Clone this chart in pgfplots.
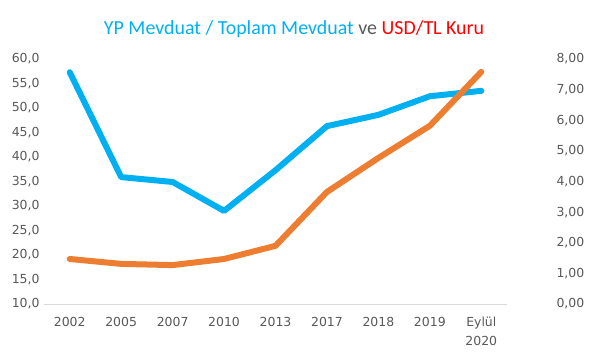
\documentclass[border=0pt]{standalone}
\usepackage{pgfplots}
\pgfplotsset{compat=1.18}
\usepackage{fontspec}
\setmainfont{DejaVu Sans}
\newfontfamily\titlefont{Carlito}
\definecolor{cblue}{HTML}{00B0F0}
\definecolor{corange}{HTML}{ED7D31}
\definecolor{cred}{HTML}{FF0000}
\definecolor{cgray}{HTML}{595959}
\definecolor{caxis}{HTML}{D9D9D9}
\begin{document}
\begin{tikzpicture}[x=1bp,y=1bp]
\useasboundingbox (-44,-51) rectangle (563,304);
\pgfplotsset{
  every axis/.append style={
    at={(0,0)}, anchor=south west, scale only axis,
    width=463bp, height=245bp,
    xmin=-0.5, xmax=8.5,
    tick style={draw=none},
    ticklabel style={font=\fontsize{12.5}{19}\selectfont, text=cgray},
    /pgf/number format/assume math mode=true,
    /pgf/number format/use comma,
    /pgf/number format/fixed,
    /pgf/number format/fixed zerofill,
  }
}
\begin{axis}[
  axis y line*=left,
  axis x line*=bottom,
  y axis line style={draw=none},
  x axis line style={draw=caxis, line width=0.8bp},
  ymin=10, ymax=60,
  ytick={10,15,...,60},
  /pgf/number format/precision=1,
  xtick={0,...,8},
  xticklabels={2002,2005,2007,2010,2013,2017,2018,2019,{Eylül\\2020}},
  xticklabel style={align=center, yshift=-10bp},
  yticklabel style={xshift=-1bp},
]
\addplot[cblue, line width=6bp, line cap=round, line join=round] coordinates {
  (0,57.3) (1,35.9) (2,34.9) (3,29.0) (4,37.3) (5,46.3) (6,48.6) (7,52.4) (8,53.5)
};
\end{axis}
\begin{axis}[
  axis y line*=right,
  axis x line=none,
  y axis line style={draw=none},
  ymin=0, ymax=8,
  ytick={0,1,...,8},
  /pgf/number format/precision=2,
  yticklabel style={xshift=46bp},
]
\addplot[corange, line width=6bp, line cap=round, line join=round] coordinates {
  (0,1.47) (1,1.31) (2,1.27) (3,1.47) (4,1.90) (5,3.66) (6,4.77) (7,5.82) (8,7.58)
};
\end{axis}
\node[font=\titlefont\fontsize{20}{24}\selectfont, anchor=base] at (250,270) {\textcolor{cblue}{YP Mevduat / Toplam Mevduat} \textcolor{cgray}{ve} \textcolor{cred}{USD/TL Kuru}};
\end{tikzpicture}
\end{document}
